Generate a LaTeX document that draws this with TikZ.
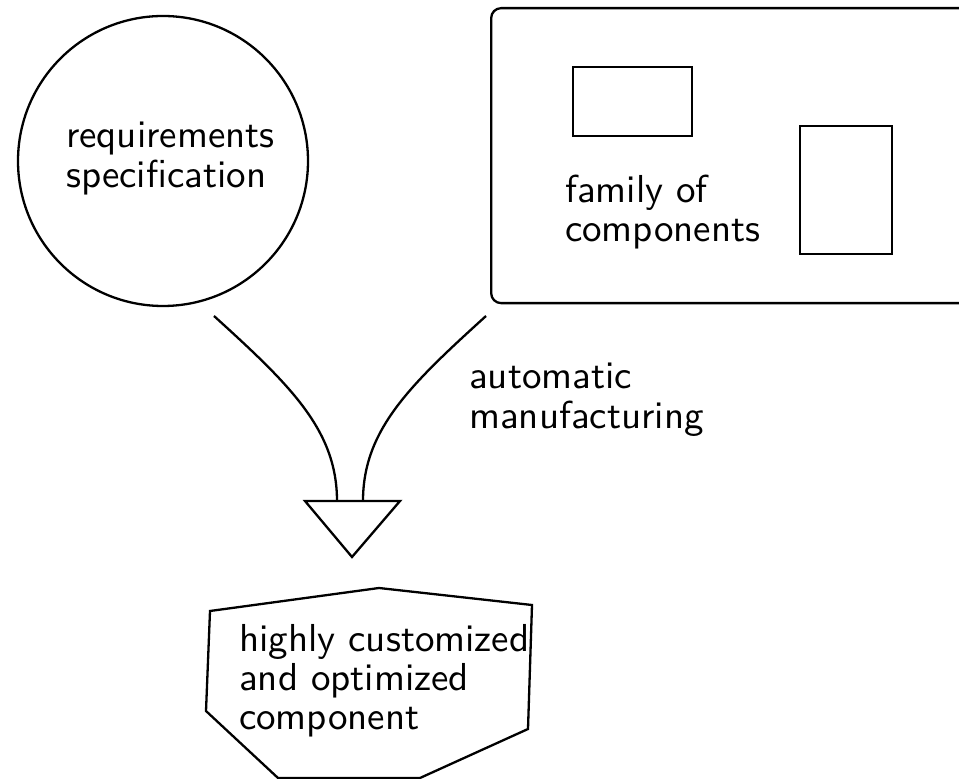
\documentclass[tikz,border=0pt]{standalone}
\usepackage{graphicx}
\renewcommand{\familydefault}{\sfdefault}
\newcommand{\reftext}[1]{\scalebox{1.95}{\fontsize{10}{10}\selectfont\sffamily\begin{tabular}[t]{@{}l@{}}#1\end{tabular}}}
\begin{document}
\begin{tikzpicture}[x=0.5pt,y=-0.5pt,line width=1.15pt,
  lbl/.style={anchor=base west,inner sep=0pt},
  box/.style={draw,inner sep=0pt,anchor=north west}]
\useasboundingbox (0,0) rectangle (959,779);
\clip (0,0) rectangle (959,779);
% requirements circle
\node[draw,circle,minimum size=145pt,inner sep=0pt] (req) at (163,161) {};
\node[lbl] (reqtext) at (65,148) {\reftext{requirements\\specification}};
% family of components
\node[box,rounded corners=5pt,minimum width=250pt,minimum height=147.5pt] (family) at (490,7) {};
\node[box,minimum width=59.5pt,minimum height=34.5pt] (comp1) at (572,66) {};
\node[box,minimum width=46pt,minimum height=64pt] (comp2) at (799,125) {};
\node[lbl] (famtext) at (564,203) {\reftext{family of\\components}};
% merge triangle
\coordinate (tl) at (305,501);
\coordinate (tr) at (400,501);
\coordinate (apex) at (352,557);
\draw (tl) -- (tr) -- (apex) -- cycle;
\coordinate (lend) at (337,501);
\coordinate (rend) at (363,501);
\coordinate (ls) at (214,316);
\coordinate (rs) at (486,316);
\draw (ls) .. controls (290,385) and (337,430) .. (lend);
\draw (rs) .. controls (410,385) and (363,430) .. (rend);
\node[lbl] (auto) at (468,389) {\reftext{automatic\\manufacturing}};
% result polygon
\draw (210,611) -- (379,588) -- (532,605) -- (528,729) -- (420,778) -- (278,778) -- (206,711) -- cycle;
\node[lbl] (result) at (238,652) {\reftext{highly customized\\and optimized\\component}};
\end{tikzpicture}
\end{document}
